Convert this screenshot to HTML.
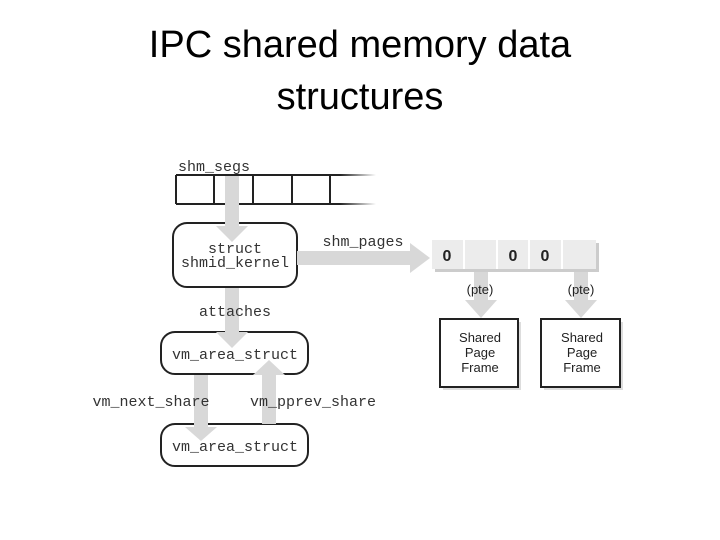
<!DOCTYPE html>
<html><head><style>
body{margin:0;width:720px;height:540px;background:#fff;overflow:hidden;position:relative;font-family:"Liberation Sans",sans-serif}
.t{position:absolute;left:0;width:720px;text-align:center;font-size:38px;line-height:52px;color:#000}
</style></head><body>
<div class="t" style="top:19px">IPC shared memory data</div>
<div class="t" style="top:71px">structures</div>
<svg width="720" height="540" style="position:absolute;left:0;top:0">
<defs><linearGradient id="fd" x1="0" x2="1"><stop offset="0" stop-color="#222"/><stop offset="1" stop-color="#fff"/></linearGradient></defs>
<!-- shm_segs array -->
<g stroke="#222" stroke-width="2" fill="none">
<line x1="176" y1="175" x2="340" y2="175"/><line x1="176" y1="204" x2="340" y2="204"/>
<line x1="176" y1="175" x2="176" y2="204"/><line x1="214" y1="175" x2="214" y2="204"/>
<line x1="253" y1="175" x2="253" y2="204"/><line x1="292" y1="175" x2="292" y2="204"/>
<line x1="330" y1="175" x2="330" y2="204"/>
</g>
<rect x="340" y="174" width="36" height="2" fill="url(#fd)"/><rect x="340" y="203" width="36" height="2" fill="url(#fd)"/>
<!-- rounded boxes -->
<g fill="#fff" stroke="#222" stroke-width="2">
<rect x="173" y="223" width="124" height="64" rx="14"/>
<rect x="161" y="332" width="147" height="42" rx="14"/>
<rect x="161" y="424" width="147" height="42" rx="14"/>
</g>
<g fill="#d8d8d8">
<rect x="225" y="176" width="14" height="52"/><polygon points="216,226 248,226 232,242"/>
<rect x="225" y="288" width="14" height="46"/><polygon points="216,332 248,332 232,348"/>
<rect x="297" y="251" width="115" height="14"/><polygon points="410,243 410,273 430,258"/>
<rect x="474" y="270" width="14" height="32"/><polygon points="465,300 497,300 481,318"/>
<rect x="574" y="270" width="14" height="32"/><polygon points="565,300 597,300 581,318"/>
<rect x="194" y="375" width="14" height="56"/><polygon points="185,427 217,427 201,441"/>
<rect x="262" y="372" width="14" height="52"/><polygon points="253,375 285,375 269,360"/>
</g>
<!-- page array -->
<rect x="435" y="243" width="164" height="29" fill="#ccc"/>
<rect x="432" y="240" width="164" height="29" fill="#ececec"/>
<g stroke="#fff" stroke-width="2"><line x1="464" y1="240" x2="464" y2="269"/><line x1="497" y1="240" x2="497" y2="269"/><line x1="529" y1="240" x2="529" y2="269"/><line x1="562" y1="240" x2="562" y2="269"/></g>
<g font-family="Liberation Sans" font-weight="bold" font-size="16" fill="#222" text-anchor="middle">
<text x="447" y="261">0</text><text x="513" y="261">0</text><text x="545" y="261">0</text></g>
<!-- frames -->
<rect x="443" y="322" width="78" height="68" fill="#ddd"/><rect x="544" y="322" width="79" height="68" fill="#ddd"/>
<g fill="#fff" stroke="#222" stroke-width="2"><rect x="440" y="319" width="78" height="68"/><rect x="541" y="319" width="79" height="68"/></g>
<g font-family="Liberation Sans" font-size="13" fill="#222" text-anchor="middle">
<text x="480" y="342">Shared</text><text x="480" y="357">Page</text><text x="480" y="372">Frame</text>
<text x="582" y="342">Shared</text><text x="582" y="357">Page</text><text x="582" y="372">Frame</text>
<text x="480" y="294">(pte)</text><text x="581" y="294">(pte)</text>
</g>
<g font-family="Liberation Mono" font-size="15" fill="#333" text-anchor="middle">
<text x="214" y="171">shm_segs</text>
<text x="235" y="253">struct</text><text x="235" y="267">shmid_kernel</text>
<text x="363" y="246">shm_pages</text>
<text x="235" y="316">attaches</text>
<text x="235" y="359">vm_area_struct</text>
<text x="235" y="451">vm_area_struct</text>
<text x="151" y="406">vm_next_share</text>
<text x="313" y="406">vm_pprev_share</text>
</g>
</svg>
</body></html>
